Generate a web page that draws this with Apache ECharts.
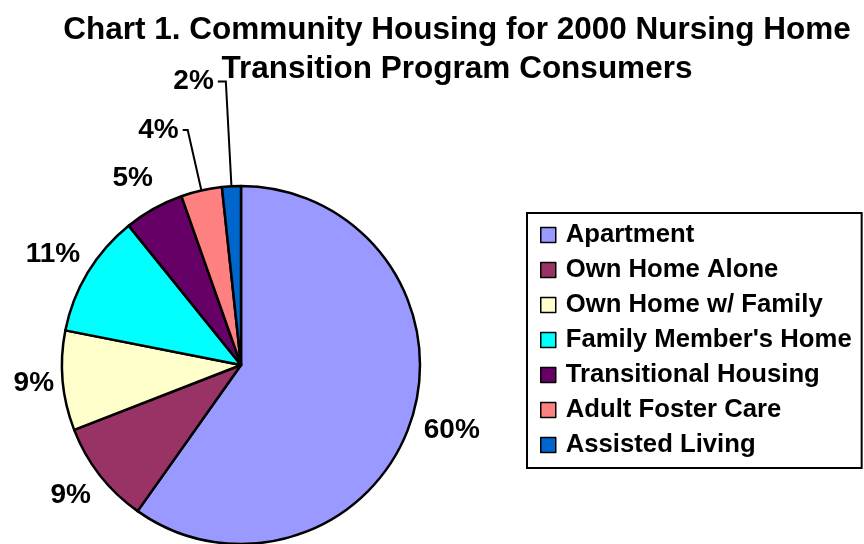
<!DOCTYPE html>
<html lang="en">
<head>
    <meta charset="UTF-8">
    <title>Community Housing</title>
    <script src="https://cdn.jsdelivr.net/npm/echarts/dist/echarts.min.js"></script>
    <style>
        html, body { margin: 0; padding: 0; background: #fff; }
    </style>
</head>
<body>
    <div id="chart" style="width: 864px; height: 544px;"></div>
    <script>
        // categories and their share of consumers (%)
        const categories = ['Apartment', 'Own Home Alone', 'Own Home w/ Family', "Family Member's Home",
            'Transitional Housing', 'Adult Foster Care', 'Assisted Living'];
        const shares = [59.8, 9.3, 9.0, 11.1, 5.4, 3.7, 1.7];

        // styling, kept apart from the data
        const colors = ['#9999FF', '#993366', '#FFFFCC', '#00FFFF', '#660066', '#FF8080', '#0066CC'];
        const lineLen = [38, 32, 25, 36, 35, 62, 105];   // radial part of label line
        const lineLen2 = [0, 0, 0, 0, 0, 5, 8];          // horizontal part
        const showLine = [false, false, false, false, false, true, true];

        const font = 'Liberation Sans, Arial, sans-serif';

        const pieData = categories.map((name, i) => ({
            name,
            value: shares[i],
            itemStyle: { color: colors[i] },
            labelLine: { show: showLine[i], length: lineLen[i], length2: lineLen2[i] }
        }));

        const chart = echarts.init(document.getElementById('chart'));
        const options = {
            animation: false,
            title: {
                text: 'Chart 1. Community Housing for 2000 Nursing Home\nTransition Program Consumers',
                left: 457,
                top: 11,
                padding: 0,
                textAlign: 'center',
                textStyle: {
                    fontFamily: font,
                    fontWeight: 'bold',
                    fontSize: 31.5,
                    lineHeight: 39,
                    color: '#000'
                }
            },
            legend: {
                orient: 'vertical',
                left: 527,
                top: 213,
                padding: [9, 10, 10, 13],
                borderColor: '#000',
                borderWidth: 2,
                itemWidth: 15,
                itemHeight: 15,
                itemGap: 9,
                icon: 'rect',
                itemStyle: { borderColor: '#000', borderWidth: 1.5 },
                textStyle: {
                    fontFamily: font,
                    fontWeight: 'bold',
                    fontSize: 25.7,
                    lineHeight: 25,
                    color: '#000',
                    padding: [0, 0, 0, 5]
                },
                data: categories
            },
            series: [{
                type: 'pie',
                center: [241, 365],
                radius: 179,
                startAngle: 90,
                clockwise: true,
                avoidLabelOverlap: false,
                itemStyle: { borderColor: '#000', borderWidth: 2.5 },
                emphasis: { disabled: true },
                label: {
                    show: true,
                    position: 'outside',
                    distanceToLabelLine: 4,
                    formatter: p => Math.round(p.percent) + '%',
                    fontFamily: font,
                    fontWeight: 'bold',
                    fontSize: 28,
                    color: '#000'
                },
                labelLine: {
                    lineStyle: { color: '#000', width: 2 }
                },
                labelLayout: function (p) {
                    return showLine[p.dataIndex] ? {} : { align: 'center' };
                },
                data: pieData
            }]
        };
        chart.setOption(options);
    </script>
</body>
</html>
